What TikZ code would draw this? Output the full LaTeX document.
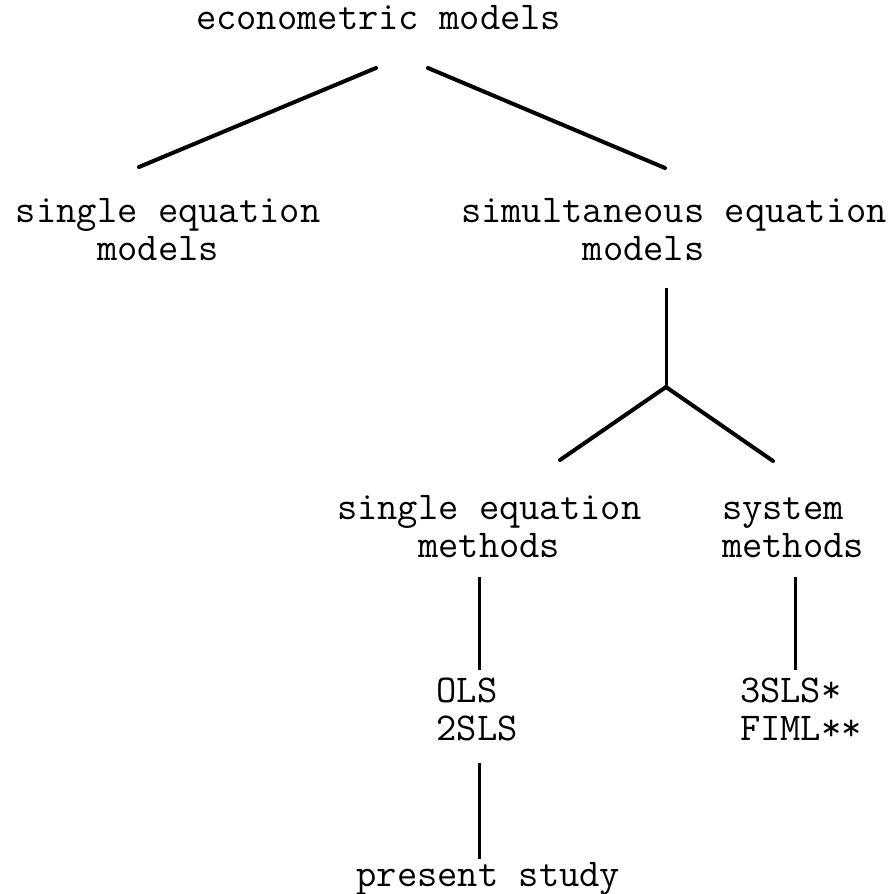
\documentclass[tikz,border=0pt]{standalone}
\usepackage{fontspec}
\begin{document}
\begin{tikzpicture}[x=0.5pt,y=-0.5pt,
  lbl/.style={anchor=base west,inner sep=0pt,outer sep=0pt,align=left,
    font=\ttfamily\fontsize{19.7pt}{18.75pt}\selectfont},
  branch/.style={line width=2pt,line cap=round},
  stem/.style={line width=1.5pt}]
\useasboundingbox (0,0) rectangle (889,894);
% nodes (base west = start of the last line's baseline)
\node[lbl] (econ) at (196,29) {econometric models};
\node[lbl] (sem) at (16,260) {single equation\\\hspace*{2.06em}models};
\node[lbl] (sim) at (461,260) {simultaneous equation\\\hspace*{3.09em}models};
\node[lbl] (sglm) at (337,557) {single equation\\\hspace*{2.06em}methods};
\node[lbl] (sys) at (722,557) {system\\methods};
\node[lbl] (ols) at (436.5,740) {OLS\\2SLS};
\node[lbl] (sys2) at (740,740) {3SLS*\\FIML**};
\node[lbl] (present) at (356.5,886) {present study};
\coordinate (j) at (666,387);
% connectors
\draw[branch] ([shift={(180,39)}]econ.base west) -- ([shift={(123,-93)}]sem.base west);
\draw[branch] ([shift={(232,39)}]econ.base west) -- ([shift={(204,-92)}]sim.base west);
\draw[stem] ([shift={(205,28)}]sim.base west) -- (j);
\draw[branch] (j) -- ([shift={(223,-97)}]sglm.base west);
\draw[branch] (j) -- ([shift={(51,-96)}]sys.base west);
\draw[stem] ([shift={(142,20)}]sglm.base west) -- ([shift={(42.5,-70)}]ols.base west);
\draw[stem] ([shift={(73,20)}]sys.base west) -- ([shift={(55,-70)}]sys2.base west);
\draw[stem] ([shift={(42.5,23)}]ols.base west) -- ([shift={(122.5,-27)}]present.base west);
\end{tikzpicture}
\end{document}
